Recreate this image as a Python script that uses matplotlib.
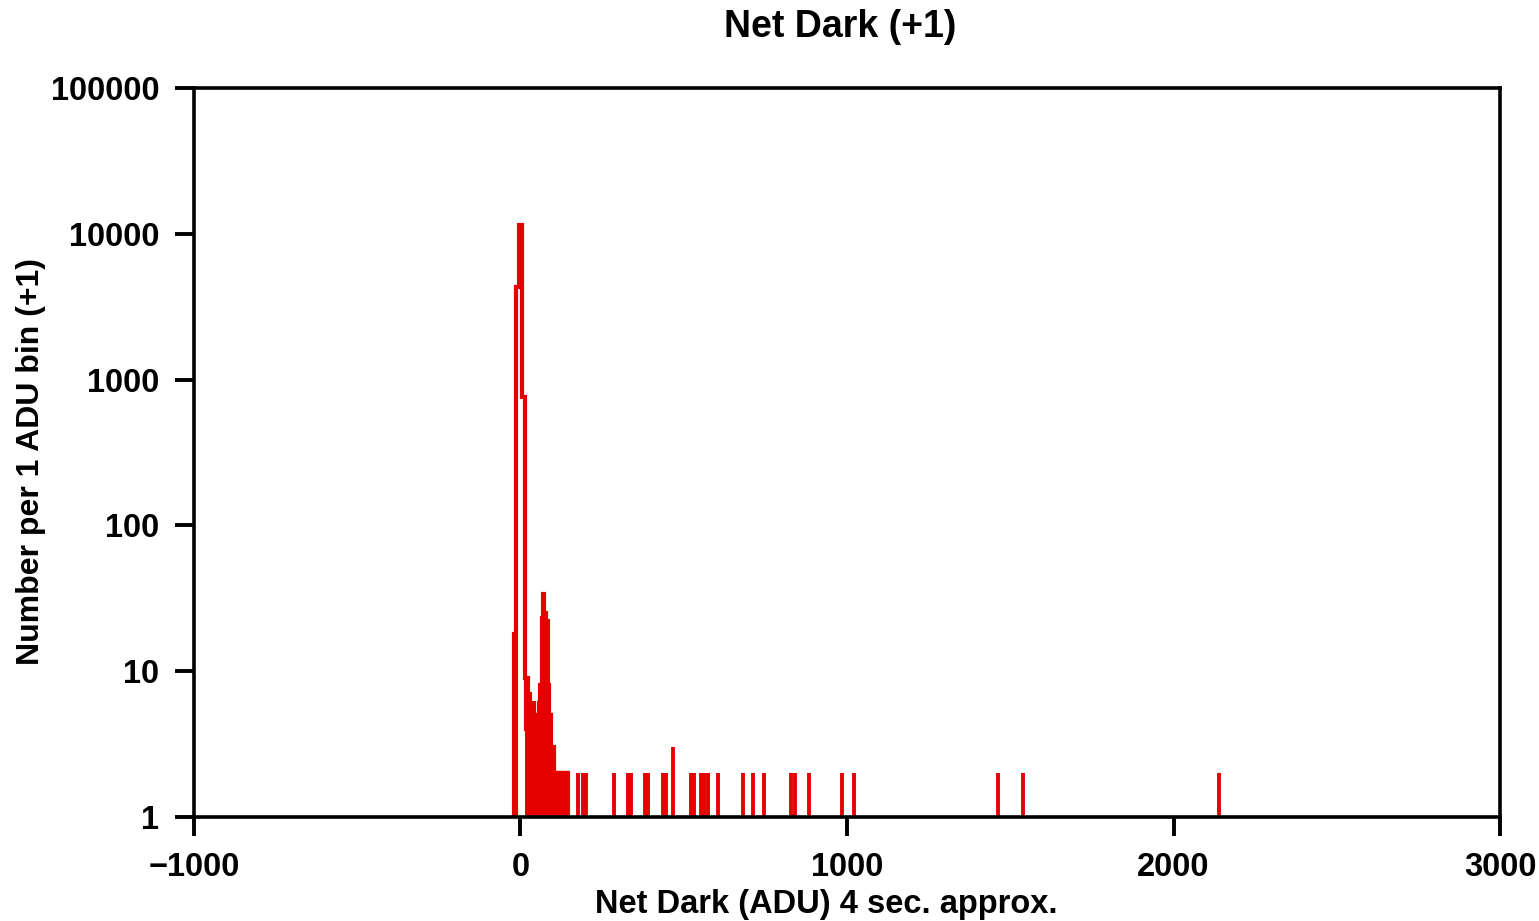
import numpy as np
import matplotlib
matplotlib.use("Agg")
import matplotlib.pyplot as plt
from matplotlib.ticker import FixedLocator, FixedFormatter, NullLocator

# central dark peak: bin edges (ADU) and counts (+1)
peak_edges = [-21, -18, -13, -5, 6, 14]
peak_counts = [18, 1, 4300, 11400, 760]

# noisy shoulder after the peak, 3 ADU steps from 14 ADU
shoulder_start = 14
shoulder_step = 3
shoulder_counts = [9, 4, 9, 3, 7, 4,
                   5, 2, 6, 3, 5, 2, 4, 2,
                   6, 8, 5,
                   23, 34, 20, 25, 13, 22, 8,
                   5, 3, 5,
                   3, 2, 3, 2,
                   2, 1, 2, 1, 2, 1, 2, 1, 2, 1, 2, 1, 2]

# isolated hot pixels (single 1-ADU bins)
spike_adu = [176, 191, 200, 286, 329, 338, 381, 390, 436, 446, 467,
             522, 531, 553, 562, 574, 605, 681, 712, 745, 828, 840,
             884, 985, 1021, 1462, 1539, 2139]
spike_counts = [2, 2, 2, 2, 2, 2, 2, 2, 2, 2, 3,
                2, 2, 2, 2, 2, 2, 2, 2, 2, 2, 2,
                2, 2, 2, 2, 2, 2]

x_ticks = [-1000, 0, 1000, 2000, 3000]
x_labels = ["\u22121000", "0", "1000", "2000", "3000"]
y_ticks = [1, 10, 100, 1000, 10000, 100000]
y_labels = ["1", "10", "100", "1000", "10000", "100000"]

plt.rcParams['font.family'] = ['Liberation Sans', 'DejaVu Sans']
plt.rcParams['font.weight'] = 'bold'

red = '#e60000'

fig = plt.figure(figsize=(15.39, 9.21), dpi=100)
ax = fig.add_axes([0.126, 0.113, 0.8487, 0.7915])

# shoulder bins are so dense they render as a solid block
sh_edges = [shoulder_start + i * shoulder_step for i in range(len(shoulder_counts) + 1)]
ax.stairs(shoulder_counts, sh_edges, baseline=1, fill=True, color=red, linewidth=0)

# full stair outline
edges = list(peak_edges) + sh_edges[1:]
counts = list(peak_counts) + list(shoulder_counts)
ax.stairs(counts, edges, baseline=1, color=red, linewidth=3.0)

ax.vlines(spike_adu, 1, spike_counts, color=red, linewidth=2.8)

ax.set_yscale('log')
ax.set_xlim(-1000, 3000)
ax.set_ylim(1, 100000)

ax.xaxis.set_major_locator(FixedLocator(x_ticks))
ax.xaxis.set_major_formatter(FixedFormatter(x_labels))
ax.yaxis.set_major_locator(FixedLocator(y_ticks))
ax.yaxis.set_major_formatter(FixedFormatter(y_labels))
ax.yaxis.set_minor_locator(NullLocator())
ax.xaxis.set_minor_locator(NullLocator())

for s in ax.spines.values():
    s.set_linewidth(2.6)
ax.tick_params(direction='out', length=14, width=2.8, labelsize=23.5, pad=11)

fig.text(0.546, 1 - 27 / 921, "Net Dark (+1)", fontsize=27, fontweight='bold',
         ha='center', va='center')
ax.set_xlabel("Net Dark (ADU) 4 sec. approx.", fontsize=23.5, fontweight='bold')
ax.set_ylabel("Number per 1 ADU bin (+1)", fontsize=23, fontweight='bold')
ax.xaxis.set_label_coords(0.484, -0.099)
ax.yaxis.set_label_coords(-0.113, 0.487)

fig.savefig("out.png", dpi=100)
